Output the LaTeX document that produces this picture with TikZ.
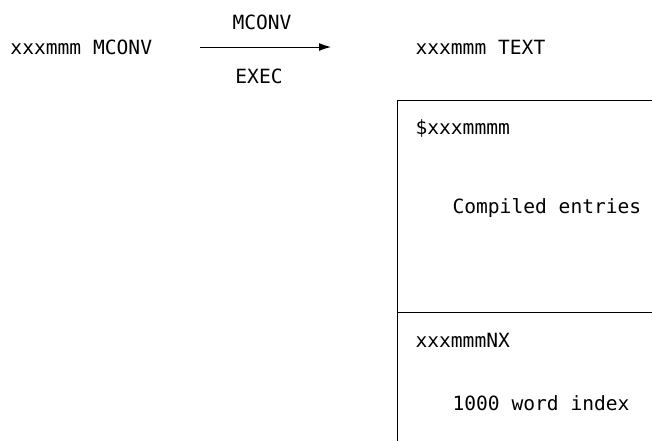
\documentclass[tikz,border=0pt]{standalone}
\usepackage{fontspec}
\setmonofont{DejaVu Sans Mono}
\usetikzlibrary{positioning,arrows.meta}
\tikzset{lbl/.style={font=\ttfamily\fontsize{9.8}{11}\selectfont,inner sep=0pt,anchor=west}}
\begin{document}
\begin{tikzpicture}[x=0.5pt,y=-0.5pt,line width=0.5pt]
		\useasboundingbox (0,0) rectangle (652,441);
		\node[lbl] (src) at (10,47) {xxxmmm MCONV};
		\node[lbl] (tgt) at (415,47) {xxxmmm TEXT};
		\coordinate (as) at (200,47);
		\coordinate (ae) at (331,47);
		\draw[-{Latex[length=6pt,width=4pt]}] (as) -- (ae);
		\node[lbl,anchor=center] (cmd) at (262,22) {MCONV};
		\node[lbl,anchor=center] (typ) at (259,76) {EXEC};
		% dataset box
		\coordinate (tl) at (397,100);
		\coordinate (tr) at (652,100);
		\coordinate (bl) at (397,441);
		\coordinate (ml) at (397,312);
		\coordinate (mr) at (652,312);
		\draw (tr) -- (tl) -- (bl);
		\draw (ml) -- (mr);
		\node[lbl] (mem) at (415,128) {\$xxxmmmm};
		\node[lbl] (ent) at (452,208) {Compiled entries};
		\node[lbl] (nx) at (415,340) {xxxmmmNX};
		\node[lbl] (idx) at (452,403) {1000 word index};
	\end{tikzpicture}
\end{document}
